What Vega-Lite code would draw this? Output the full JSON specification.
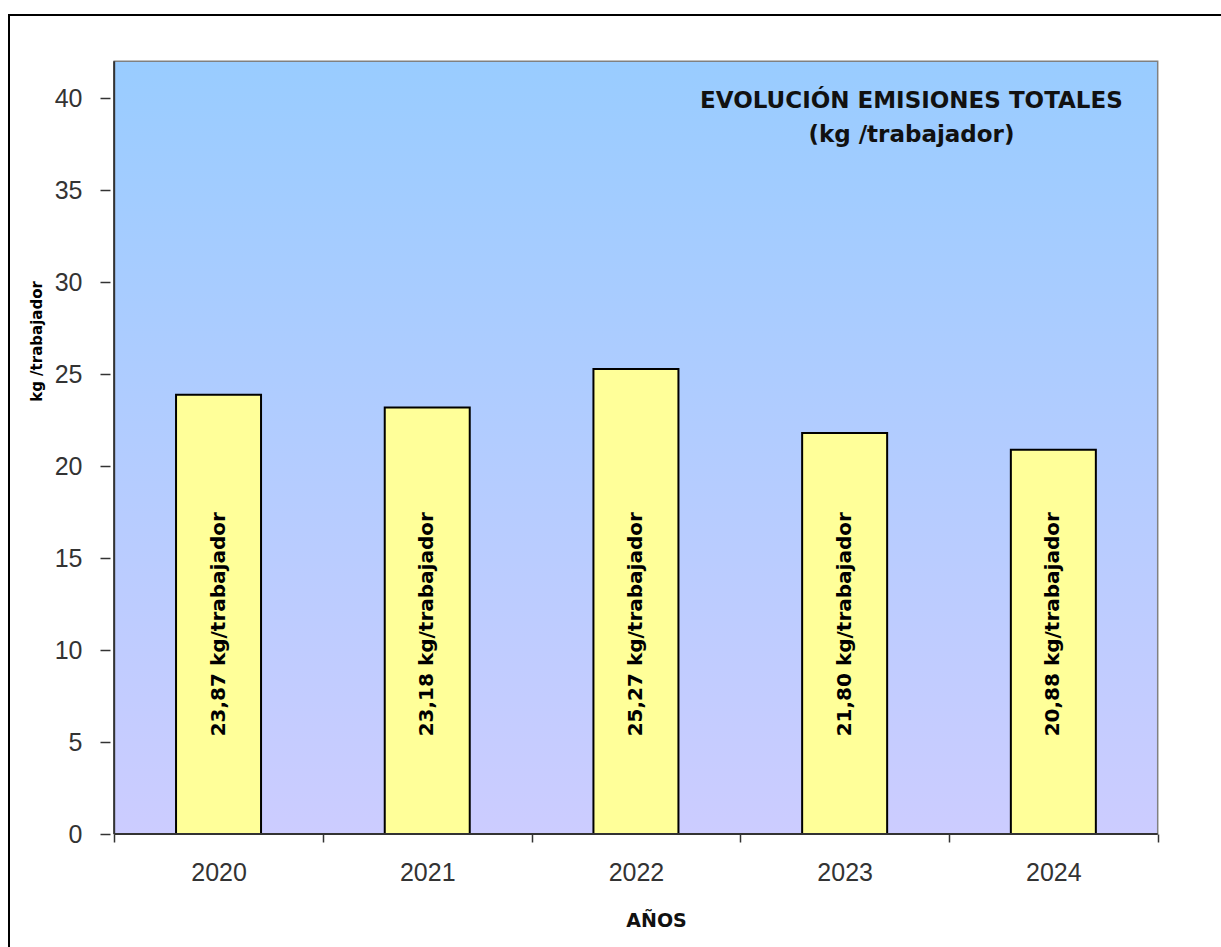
{
  "$schema": "https://vega.github.io/schema/vega-lite/v6.json",
  "width": 1240,
  "height": 936,
  "autosize": {"type": "none"},
  "padding": {"left": 9, "top": 15, "right": -28, "bottom": -4},
  "background": "white",
  "config": {"view": {"stroke": "#000", "strokeWidth": 2}},
  "data": {
    "values": [
      {"year": 2020, "value": 23.87, "label": "23,87 kg/trabajador"},
      {"year": 2021, "value": 23.18, "label": "23,18 kg/trabajador"},
      {"year": 2022, "value": 25.27, "label": "25,27 kg/trabajador"},
      {"year": 2023, "value": 21.80, "label": "21,80 kg/trabajador"},
      {"year": 2024, "value": 20.88, "label": "20,88 kg/trabajador"}
    ]
  },
  "layer": [
    {
      "data": {"values": [{}]},
      "mark": {
        "type": "rect",
        "fill": {
          "gradient": "linear",
          "x1": 0, "y1": 0, "x2": 0, "y2": 1,
          "stops": [
            {"offset": 0, "color": "#99CCFF"},
            {"offset": 1, "color": "#CCCCFF"}
          ]
        },
        "stroke": "#808080",
        "strokeWidth": 1.5
      },
      "encoding": {
        "x": {"datum": 2019.5, "type": "quantitative"},
        "x2": {"datum": 2024.5},
        "y": {"datum": 0, "type": "quantitative"},
        "y2": {"datum": 42}
      }
    },
    {
      "mark": {"type": "bar", "width": 85, "fill": "#FFFF99", "stroke": "#000", "strokeWidth": 2},
      "encoding": {
        "x": {
          "field": "year",
          "type": "quantitative",
          "scale": {"domain": [2019.01996, 2024.9135], "nice": false, "zero": false},
          "axis": {
            "title": "AÑOS",
            "values": [2019.5, 2020, 2020.5, 2021, 2021.5, 2022, 2022.5, 2023, 2023.5, 2024, 2024.5],
            "labelExpr": "(datum.value % 1 === 0) ? ('' + datum.value) : ''",
            "offset": -117,
            "domain": false,
            "grid": false,
            "tickSize": 8,
            "tickColor": "#333333",
            "tickWidth": 1.5,
            "tickOpacity": {"condition": {"test": "datum.value % 1 === 0", "value": 0}, "value": 1},
            "labelPadding": 18,
            "labelFont": "Liberation Sans",
            "labelFontSize": 25,
            "labelColor": "#333333",
            "labelFlush": false,
            "labelOverlap": false,
            "labelBound": false,
            "titleFont": "DejaVu Sans",
            "titleFontSize": 19,
            "titleFontWeight": "bold",
            "titleColor": "#111111",
            "titleX": 647,
            "titleY": 92,
            "titleAlign": "center",
            "titleBaseline": "alphabetic"
          }
        },
        "y": {
          "field": "value",
          "type": "quantitative",
          "scale": {"domain": [-6.3587, 44.5109], "nice": false, "zero": false},
          "axis": {
            "title": "kg /trabajador",
            "values": [0, 5, 10, 15, 20, 25, 30, 35, 40],
            "offset": -101,
            "domain": false,
            "grid": false,
            "tickSize": 10,
            "tickColor": "#333333",
            "tickWidth": 1.5,
            "labelPadding": 18,
            "labelFont": "Liberation Sans",
            "labelFontSize": 25,
            "labelColor": "#333333",
            "labelFlush": false,
            "labelBound": false,
            "titleFont": "DejaVu Sans",
            "titleFontSize": 15,
            "titleFontWeight": "bold",
            "titleColor": "#000000",
            "titleX": -74,
            "titleY": 326,
            "titleAngle": 270,
            "titleAlign": "center",
            "titleBaseline": "middle"
          }
        },
        "y2": {"datum": 0}
      }
    },
    {
      "data": {"values": [{}]},
      "mark": {"type": "rule", "stroke": "#333333", "strokeWidth": 2},
      "encoding": {
        "x": {"datum": 2019.5, "type": "quantitative"},
        "y": {"datum": 0, "type": "quantitative"},
        "y2": {"datum": 42}
      }
    },
    {
      "data": {"values": [{}]},
      "mark": {"type": "rule", "stroke": "#333333", "strokeWidth": 2},
      "encoding": {
        "x": {"datum": 2019.5, "type": "quantitative"},
        "x2": {"datum": 2024.5},
        "y": {"datum": 0, "type": "quantitative"}
      }
    },
    {
      "mark": {
        "type": "text",
        "angle": 270,
        "font": "DejaVu Sans",
        "fontWeight": "bold",
        "fontSize": 20,
        "align": "center",
        "baseline": "middle",
        "color": "#000000"
      },
      "encoding": {
        "x": {"field": "year", "type": "quantitative"},
        "y": {"datum": 11.4, "type": "quantitative"},
        "text": {"field": "label"}
      }
    },
    {
      "data": {"values": [{}]},
      "mark": {
        "type": "text",
        "text": ["EVOLUCIÓN EMISIONES TOTALES", "(kg /trabajador)"],
        "font": "DejaVu Sans",
        "fontWeight": "bold",
        "fontSize": 23,
        "lineHeight": 34,
        "align": "center",
        "baseline": "alphabetic",
        "color": "#111111"
      },
      "encoding": {
        "x": {"datum": 2023.32, "type": "quantitative"},
        "y": {"datum": 39.46, "type": "quantitative"}
      }
    }
  ]
}
